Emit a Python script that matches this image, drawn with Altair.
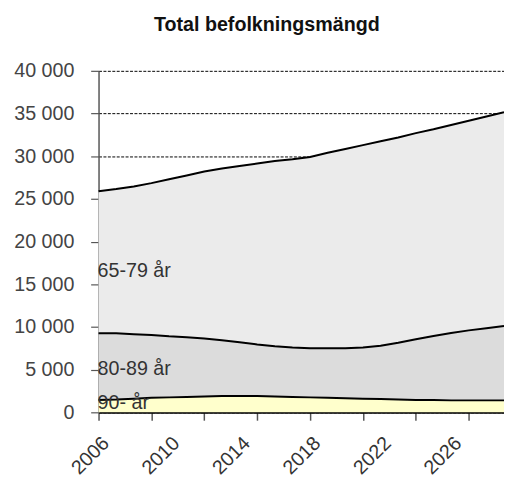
import altair as alt
import pandas as pd

years = list(range(2006, 2030))

age_groups = ["65-79 år", "80-89 år", "90- år"]

v_65_79 = [16650, 16900, 17300, 17800, 18400, 18950, 19550, 20100, 20650, 21200,
           21700, 22050, 22400, 22900, 23350, 23700, 23950, 24050, 24150, 24200,
           24350, 24550, 24800, 25050]
v_80_89 = [7800, 7750, 7550, 7350, 7150, 7000, 6800, 6550, 6300, 6050,
           5900, 5800, 5750, 5800, 5850, 6000, 6250, 6650, 7100, 7500,
           7900, 8200, 8450, 8700]
v_90 = [1450, 1500, 1600, 1700, 1750, 1800, 1850, 1900, 1900, 1900,
        1850, 1800, 1750, 1700, 1650, 1600, 1550, 1500, 1450, 1450,
        1400, 1400, 1400, 1400]

y_ticks = [0, 5000, 10000, 15000, 20000, 25000, 30000, 35000, 40000]
x_tick_years = [2006, 2009, 2012, 2015, 2018, 2021, 2024, 2027]
x_label_years = [2006, 2010, 2014, 2018, 2022, 2026]

label_year = [2006, 2006, 2006]
label_value = [15900, 4400, 350]

fills = ["#ebebeb", "#dcdcdc", "#ffffcc"]

series = {"65-79 år": v_65_79, "80-89 år": v_80_89, "90- år": v_90}
order_map = {"90- år": 0, "80-89 år": 1, "65-79 år": 2}
rows = []
for g, vals in series.items():
    for yr, v in zip(years, vals):
        rows.append({"year": yr, "value": v, "group": g, "ord": order_map[g]})
df = pd.DataFrame(rows)

lab_df = pd.DataFrame({"year": label_year, "value": label_value, "text": age_groups})

FONT = "Liberation Sans"

all_x = sorted(set(x_tick_years) | set(x_label_years))
lab_test = " || ".join(f"datum.value == {y}" for y in x_label_years)
tick_test = " || ".join(f"datum.value == {y}" for y in x_tick_years)

x_scale = alt.Scale(domain=[2006, 2029], nice=False, zero=False)
y_scale = alt.Scale(domain=[0, 40000], nice=False)

x_axis = alt.Axis(values=all_x, orient="bottom",
                  labelExpr=f"({lab_test}) ? toString(datum.value) : ''",
                  labelAngle=-45, labelOverlap=False, labelFlush=False,
                  labelFont=FONT, labelFontSize=20, labelColor="#333333",
                  labelPadding=13, tickSize=8, tickWidth=1.5,
                  tickColor={"condition": {"test": tick_test, "value": "#555555"},
                             "value": "transparent"},
                  domainColor="black", domainWidth=2, grid=False)

y_axis = alt.Axis(values=y_ticks,
                  labelExpr="replace(format(datum.value, ','), ',', ' ')",
                  labelFont=FONT, labelFontSize=20, labelColor="#444444",
                  labelPadding=17, tickSize=8, tickColor="#555555", tickWidth=1.2,
                  domainColor="#555555", domainWidth=1.5,
                  grid=True, gridColor="black", gridDash=[3, 1.5], gridWidth=1)

areas = alt.Chart(df).mark_area(opacity=1).encode(
    x=alt.X("year:Q", scale=x_scale, title=None, axis=x_axis),
    y=alt.Y("value:Q", stack="zero", scale=y_scale, title=None, axis=y_axis),
    color=alt.Color("group:N", scale=alt.Scale(domain=age_groups, range=fills), legend=None),
    order=alt.Order("ord:Q"),
)

lines = alt.Chart(df).mark_line(color="black", strokeWidth=2).encode(
    x=alt.X("year:Q", scale=x_scale, title=None, axis=x_axis),
    y=alt.Y("value:Q", stack="zero", scale=y_scale, title=None, axis=y_axis),
    detail="group:N",
    order=alt.Order("ord:Q"),
)

labels = alt.Chart(lab_df).mark_text(
    align="left", baseline="alphabetic", font=FONT, fontSize=20, color="#333333", dx=-1
).encode(
    x=alt.X("year:Q", scale=x_scale, title=None, axis=x_axis),
    y=alt.Y("value:Q", scale=y_scale, title=None, axis=y_axis),
    text="text:N",
)

chart = alt.layer(areas, lines, labels).properties(
    width=412, height=347,
    title=alt.TitleParams("Total befolkningsmängd", font=FONT, fontSize=20, fontWeight="bold",
                          color="#111111", anchor="middle", offset=10, dx=-35,
                          baseline="alphabetic"),
    padding={"left": 92, "top": 60, "right": 0, "bottom": 70},
    autosize="none",
).configure_view(stroke=None)

chart.save("out.html", embed_options={"renderer": "svg", "actions": False})
